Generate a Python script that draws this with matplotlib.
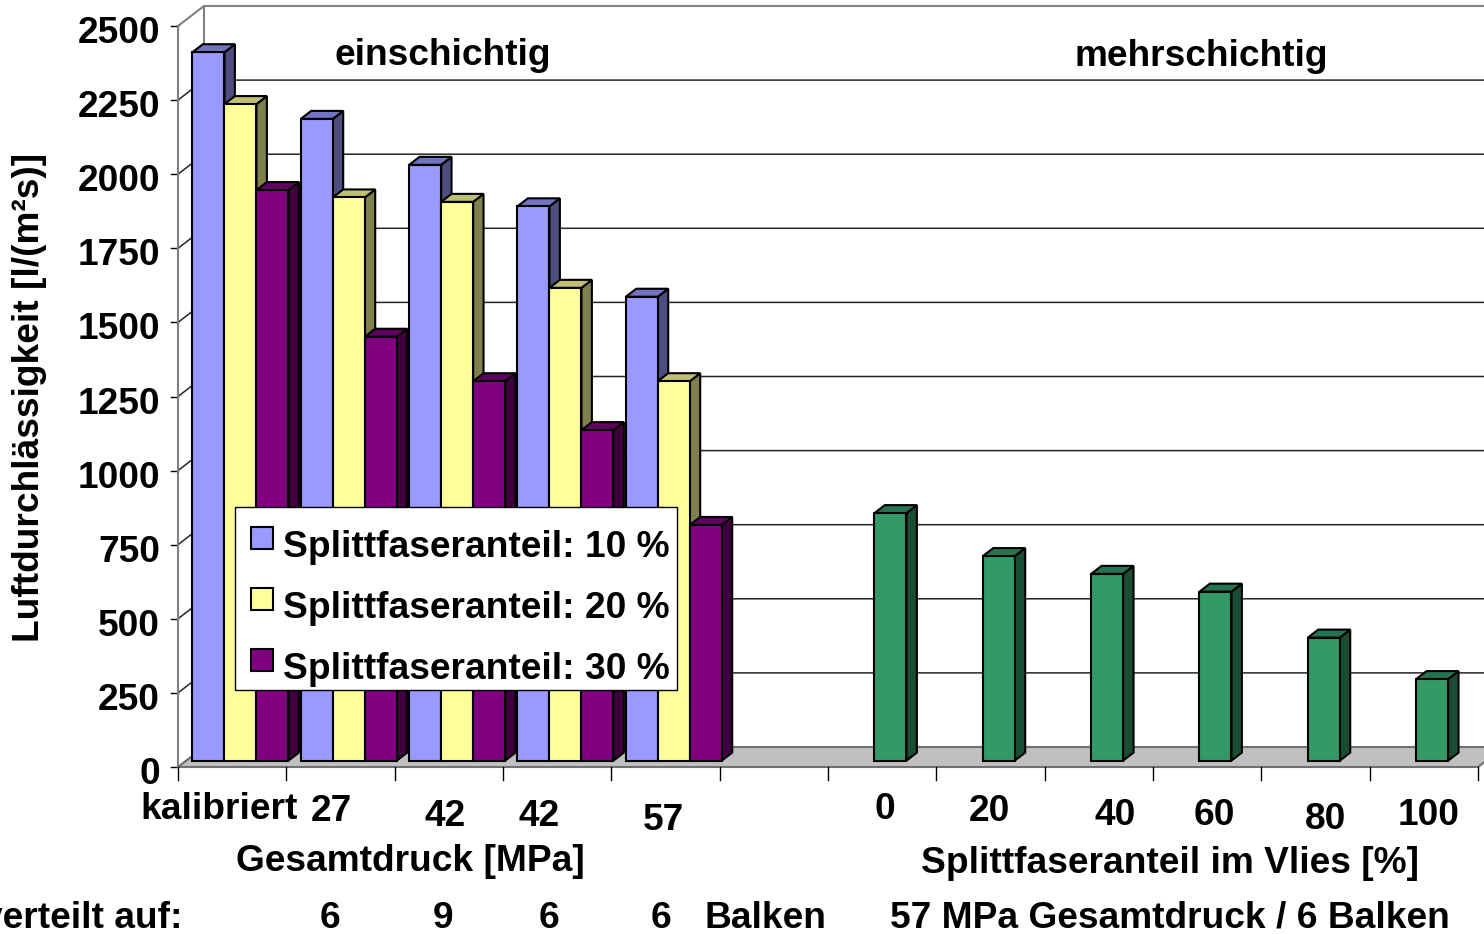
import matplotlib as mpl
mpl.use('Agg')
import matplotlib.pyplot as plt
from matplotlib.patches import Polygon, Rectangle
import numpy as np

# single-layer webs: calibrated + total pressure [MPa]
groups = ['kalibriert', '27', '42', '42', '57']
balken = ['6', '9', '6', '6']
split_10 = [2390, 2165, 2010, 1870, 1565]
split_20 = [2215, 1900, 1885, 1595, 1280]
split_30 = [1925, 1430, 1280, 1115, 795]
series_names = ['Splittfaseranteil: 10 %', 'Splittfaseranteil: 20 %',
                'Splittfaseranteil: 30 %']

# multi-layer webs at 57 MPa / 6 bars, split fibre share [%]
split_share = ['0', '20', '40', '60', '80', '100']
multi = [835, 690, 630, 570, 415, 275]

yticks = np.arange(0, 2501, 250)

# colours: front, top, side
blue = ('#9999FF', '#7373C0', '#4D4D80')
yellow = ('#FFFF99', '#C0C073', '#80804D')
purple = ('#800080', '#600060', '#400040')
green = ('#339966', '#267350', '#1A4D33')

# pixel layout of the plot box (front axis)
X0 = 178.0
SX = 1300.0 / 12
Y0 = 767.0
SY = 741.0 / 2500


def px_x(p):
    return (p - X0) / SX


def px_y(p):
    return (Y0 - p) / SY


DX = 26 / SX        # depth of the box
DY = 20 / SY
F0, F1 = 0.32, 0.72  # bar depth range
BW = 32 / SX        # bar width
XMAX = 12

font = {'family': 'Liberation Sans', 'weight': 'bold', 'size': 26.7}

fig = plt.figure(figsize=(14.84, 9.34), dpi=100)
ax = fig.add_axes([0, 0, 1, 1])
ax.set_xlim(px_x(0), px_x(1484))
ax.set_ylim(px_y(934), px_y(0))
ax.axis('off')

# back wall gridlines + side wall diagonals
for g in yticks:
    c = '#808080' if g == 2500 else '#262626'
    lw = 1.5 if g == 2500 else 1.1
    ax.plot([0, DX, XMAX + 1], [g, g + DY, g + DY], color=c, lw=lw, zorder=1)
    ax.plot([px_x(171), 0], [g, g], color='black', lw=1.0, zorder=1)
ax.plot([DX, DX], [DY, 2500 + DY], color='#808080', lw=1.5, zorder=1)
ax.plot([0, 0], [0, 2500], color='#808080', lw=1.5, zorder=1)

# floor
floor = Polygon([(0, 0), (XMAX, 0), (XMAX + DX, DY), (DX, DY)], closed=True,
                fc='#C0C0C0', ec='#707070', lw=1.5, zorder=2)
ax.add_patch(floor)
for s in range(XMAX + 1):
    ax.plot([s, s], [0, px_y(780)], color='black', lw=1.0, zorder=2)


def bar3d(left, val, cols, z):
    x0 = left + F0 * DX
    y0 = F0 * DY
    d = F1 - F0
    ddx, ddy = d * DX, d * DY
    kw = dict(ec='black', lw=1.5, joinstyle='miter', zorder=z)
    ax.add_patch(Polygon([(x0 + BW, y0), (x0 + BW + ddx, y0 + ddy),
                          (x0 + BW + ddx, y0 + val + ddy), (x0 + BW, y0 + val)],
                         fc=cols[2], **kw))
    ax.add_patch(Polygon([(x0, y0 + val), (x0 + BW, y0 + val),
                          (x0 + BW + ddx, y0 + val + ddy), (x0 + ddx, y0 + val + ddy)],
                         fc=cols[1], **kw))
    ax.add_patch(Rectangle((x0, y0), BW, val, fc=cols[0], **kw))


z = 3
for i in range(len(groups)):
    left = i + 0.5 - 1.5 * BW
    for k, (vals, cols) in enumerate([(split_10, blue), (split_20, yellow), (split_30, purple)]):
        bar3d(left + k * BW, vals[i], cols, z)
        z += 1

for i in range(len(multi)):
    bar3d(6 + i + 0.5 - 0.5 * BW, multi[i], green, z)
    z += 1

# y tick labels
for g in yticks:
    ax.text(px_x(160), g - 17 / SY, str(g), ha='right', va='baseline', **font)

# category labels (staggered like the original sheet)
grp_nudge = [-13, -9, -4, -18, -2]
grp_base = [819, 821, 826, 826, 830]
for i, lab in enumerate(groups):
    ax.text(i + 0.5 + grp_nudge[i] / SX, px_y(grp_base[i]), lab,
            ha='center', va='baseline', **font)
share_nudge = [3, -1, 16, 7, 10, 5]
share_base = [819, 821, 825, 825, 829, 825]
for i, lab in enumerate(split_share):
    ax.text(6 + i + 0.5 + share_nudge[i] / SX, px_y(share_base[i]), lab,
            ha='center', va='baseline', **font)

# axis titles and notes
ax.text(px_x(443), px_y(65), 'einschichtig', ha='center', va='baseline', **font)
ax.text(px_x(1201), px_y(66), 'mehrschichtig', ha='center', va='baseline', **font)
ax.text(px_x(410), px_y(871), 'Gesamtdruck [MPa]', ha='center', va='baseline', **font)
ax.text(px_x(1170), px_y(873), 'Splittfaseranteil im Vlies [%]',
        ha='center', va='baseline', **font)
ax.text(px_x(30), px_y(397), 'Luftdurchlässigkeit [l/(m²s)]', rotation=90,
        ha='center', va='center', **font)

ax.text(px_x(183), px_y(928), 'verteilt auf:', ha='right', va='baseline', **font)
for xp, lab in zip([330, 443, 549, 661], balken):
    ax.text(px_x(xp), px_y(928), lab, ha='center', va='baseline', **font)
ax.text(px_x(765), px_y(928), 'Balken', ha='center', va='baseline', **font)
ax.text(px_x(1170), px_y(928), '57 MPa Gesamtdruck / 6 Balken',
        ha='center', va='baseline', **font)

# legend box
lz = 100
ax.add_patch(Rectangle((px_x(235), px_y(690)), (677 - 235) / SX, (690 - 507) * (1 / SY),
                       fc='white', ec='black', lw=1.0, zorder=lz))
for k, (name, cols) in enumerate(zip(series_names, [blue, yellow, purple])):
    top = 527 + 61 * k
    ax.add_patch(Rectangle((px_x(251), px_y(top + 22)), 22 / SX, 22 / SY,
                           fc=cols[0], ec='black', lw=1.5, zorder=lz + 1))
    ax.text(px_x(283), px_y(557 + 61 * k), name, ha='left', va='baseline',
            zorder=lz + 2, **font)

fig.savefig('out.png', dpi=100, facecolor='white')
